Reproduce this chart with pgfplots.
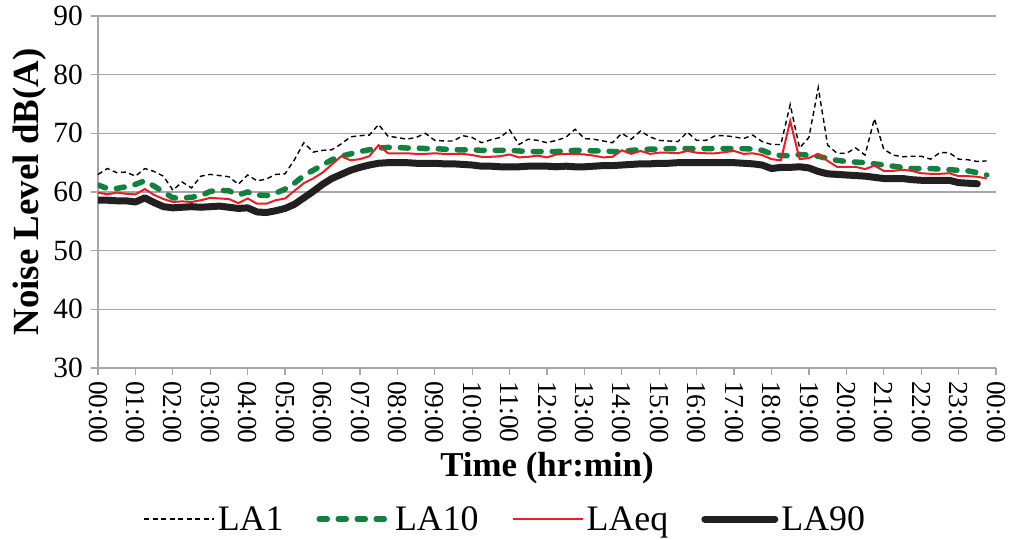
\documentclass[border=0pt]{standalone}
\usepackage{fontspec}
\setmainfont{Liberation Serif}
\usepackage{pgfplots}
\pgfplotsset{compat=1.18}
\usepackage{pgfplotstable}

\definecolor{la10green}{RGB}{18,128,62}
\definecolor{laeqred}{RGB}{237,28,36}
\definecolor{la90black}{RGB}{35,31,32}
\definecolor{gridgray}{RGB}{166,166,166}

% noise levels every 15 min, time in hours
\pgfplotstableread{
t     LA1  LA10 LAeq LA90
0.00  63.0 61.2 59.9 58.6
0.25  64.0 60.6 59.6 58.6
0.50  63.3 60.6 59.9 58.5
0.75  63.4 60.9 59.7 58.5
1.00  62.7 61.3 59.6 58.3
1.25  64.0 61.9 60.5 59.0
1.50  63.5 61.0 59.5 58.2
1.75  62.7 60.0 58.8 57.5
2.00  60.3 59.0 58.3 57.3
2.25  61.7 59.0 58.4 57.4
2.50  60.7 59.1 58.3 57.5
2.75  62.7 59.4 58.6 57.4
3.00  63.0 60.1 59.0 57.5
3.25  62.8 60.3 58.9 57.6
3.50  62.6 60.2 58.8 57.4
3.75  61.3 59.5 58.1 57.2
4.00  62.9 60.0 58.9 57.3
4.25  61.9 59.5 58.0 56.6
4.50  62.2 59.4 58.0 56.5
4.75  63.0 59.8 58.6 56.8
5.00  63.1 60.5 58.9 57.2
5.25  65.5 61.5 60.2 57.9
5.50  68.4 62.8 61.5 59.0
5.75  66.8 63.7 62.3 60.1
6.00  67.1 64.6 63.3 61.3
6.25  67.2 65.5 64.7 62.3
6.50  68.2 66.1 66.1 63.0
6.75  69.4 66.5 65.4 63.7
7.00  69.6 66.9 65.6 64.2
7.25  69.7 67.2 66.1 64.6
7.50  71.5 67.5 68.0 64.9
7.75  69.5 67.6 66.6 65.0
8.00  69.3 67.6 66.6 65.0
8.25  69.0 67.5 66.6 65.0
8.50  69.3 67.5 66.5 64.9
8.75  70.0 67.4 66.5 64.9
9.00  68.8 67.4 66.6 64.9
9.25  68.7 67.3 66.5 64.8
9.50  68.7 67.2 66.5 64.8
9.75  69.6 67.2 66.5 64.7
10.00 69.3 67.2 66.3 64.6
10.25 68.4 67.1 66.0 64.4
10.50 68.9 67.1 66.0 64.4
10.75 69.3 67.1 66.1 64.3
11.00 70.6 67.1 66.4 64.3
11.25 68.1 67.0 65.9 64.3
11.50 69.0 66.9 66.0 64.4
11.75 68.8 66.9 66.2 64.4
12.00 68.4 66.9 65.9 64.4
12.25 68.8 66.9 66.4 64.3
12.50 69.3 67.0 66.5 64.4
12.75 70.7 67.1 66.5 64.3
13.00 69.1 67.1 66.4 64.3
13.25 69.0 67.0 66.2 64.4
13.50 68.7 67.0 65.9 64.5
13.75 68.4 66.9 66.0 64.5
14.00 70.0 66.9 67.1 64.6
14.25 69.0 67.1 66.5 64.7
14.50 70.4 67.2 67.0 64.8
14.75 69.4 67.3 66.5 64.8
15.00 68.8 67.3 66.7 64.9
15.25 68.7 67.4 66.7 64.9
15.50 68.6 67.4 66.6 65.0
15.75 70.2 67.4 67.0 65.0
16.00 68.8 67.4 66.7 65.0
16.25 68.8 67.4 66.6 65.0
16.50 69.6 67.4 66.6 65.0
16.75 69.6 67.4 66.8 65.0
17.00 69.4 67.4 67.0 65.0
17.25 69.1 67.4 66.5 64.9
17.50 69.7 67.3 66.6 64.8
17.75 68.6 67.1 66.3 64.6
18.00 68.1 66.5 65.6 64.0
18.25 68.1 66.2 65.4 64.2
18.50 74.9 66.2 72.1 64.2
18.75 67.5 66.4 65.6 64.3
19.00 69.3 66.3 65.8 64.1
19.25 77.8 66.1 66.5 63.5
19.50 68.0 65.7 65.3 63.1
19.75 66.6 65.4 64.3 63.0
20.00 66.6 65.2 64.3 62.9
20.25 67.5 65.1 64.3 62.8
20.50 66.3 65.0 63.9 62.7
20.75 72.5 64.8 64.5 62.5
21.00 67.3 64.6 63.6 62.3
21.25 66.3 64.4 63.6 62.3
21.50 66.0 64.2 63.8 62.3
21.75 66.1 64.0 63.6 62.1
22.00 66.1 64.0 63.2 62.0
22.25 65.6 64.0 63.1 62.0
22.50 66.7 63.9 63.1 62.0
22.75 66.7 63.8 63.2 62.0
23.00 65.6 63.7 62.7 61.6
23.25 65.5 63.6 62.7 61.5
23.50 65.2 63.3 62.6 61.4
23.75 65.3 62.9 62.3 nan
}\noisedata

\begin{document}
\begin{tikzpicture}
\begin{axis}[
    scale only axis,
    width=898bp, height=352bp,
    xmin=0, xmax=24,
    ymin=30, ymax=90,
    xtick={0,1,...,24},
    xticklabels={00:00,01:00,02:00,03:00,04:00,05:00,06:00,07:00,08:00,09:00,10:00,11:00,12:00,
                 13:00,14:00,15:00,16:00,17:00,18:00,19:00,20:00,21:00,22:00,23:00,00:00},
    ytick={30,40,...,90},
    axis x line*=bottom, axis y line*=left,
    axis line style={draw=gridgray, line width=1.3bp, -},
    ymajorgrids,
    major grid style={gridgray, line width=1.3bp},
    tick align=outside,
    major tick length=7bp,
    tick style={gridgray, line width=1.2bp},
    /pgf/number format/assume math mode=true,
    ticklabel style={text=black},
    xticklabel style={rotate=-90, anchor=west, inner xsep=6bp, font=\fontsize{27.5}{30}\selectfont},
    yticklabel style={inner xsep=8bp, font=\fontsize{29.5}{32}\selectfont},
    xlabel={\textbf{Time (hr:min)}},
    ylabel={\textbf{Noise Level dB(A)}},
    every axis x label/.style={at={(axis description cs:0.5,-0.285)}, anchor=center,
        font=\fontsize{35}{40}\selectfont},
    every axis y label/.style={at={(axis description cs:-0.0757,0.5)}, rotate=90, anchor=center,
        font=\fontsize{37}{40}\selectfont},
    legend columns=4,
    legend style={at={(axis description cs:0.454,-0.429)}, anchor=center, draw=none,
        font=\fontsize{36}{38}\selectfont, inner sep=0pt,
        nodes={inner sep=3bp},
        /tikz/every even column/.append style={column sep=30bp}},
    legend image code/.code={\draw[#1] (0bp,0bp) -- (70bp,0bp);},
    unbounded coords=jump,
]
\addplot[black, line width=1.4bp, dash pattern=on 5bp off 3.5bp] table[x=t, y=LA1] {\noisedata};
\addlegendentry{LA1}
\addplot[la10green, line width=5.5bp, line cap=round, dash pattern=on 8bp off 11bp] table[x=t, y=LA10] {\noisedata};
\addlegendentry{LA10}
\addplot[laeqred, line width=2bp] table[x=t, y=LAeq] {\noisedata};
\addlegendentry{LAeq}
\addplot[la90black, line width=7bp, line cap=round, line join=round] table[x=t, y=LA90] {\noisedata};
\addlegendentry{LA90}
\end{axis}
\pgfresetboundingbox
\path[use as bounding box] ([shift={(-98bp,-172bp)}]current axis.south west)
    rectangle ([shift={(915bp,368bp)}]current axis.south west);
\end{tikzpicture}
\end{document}
